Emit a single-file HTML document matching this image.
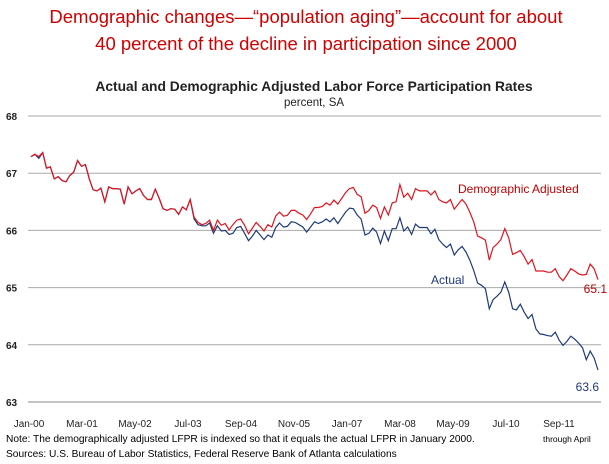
<!DOCTYPE html>
<html><head><meta charset="utf-8"><style>
body{margin:0;background:#fff;width:609px;height:459px;overflow:hidden;font-family:"Liberation Sans",sans-serif}
svg text{font-family:"Liberation Sans",sans-serif}
</style></head><body>
<svg id="c" width="609" height="459">
<text x="306" y="23" text-anchor="middle" font-size="18.5" fill="#d00000">Demographic changes—“population aging”—account for about</text>
<text x="306" y="50" text-anchor="middle" font-size="18.5" fill="#d00000">40 percent of the decline in participation since 2000</text>
<text x="314" y="91" text-anchor="middle" font-size="13.8" font-weight="bold" fill="#222">Actual and Demographic Adjusted Labor Force Participation Rates</text>
<text x="314" y="106" text-anchor="middle" font-size="11.5" fill="#222">percent, SA</text>
<g id="grid"></g><g id="series"></g><g id="labels"></g>
<text x="6" y="442" font-size="10.2" fill="#000">Note: The demographically adjusted LFPR is indexed so that it equals the actual LFPR in January 2000.</text>
<text x="543" y="442" font-size="8.5" fill="#000">through April</text>
<text x="6" y="457" font-size="10.2" fill="#000">Sources: U.S. Bureau of Labor Statistics, Federal Reserve Bank of Atlanta calculations</text>
</svg>
<script>
const yTicks=[63,64,65,66,67,68];
const xLabels=["Jan-00","Mar-01","May-02","Jul-03","Sep-04","Nov-05","Jan-07","Mar-08","May-09","Jul-10","Sep-11"];
const adjusted=[67.29,67.33,67.29,67.36,67.09,67.11,66.9,66.94,66.87,66.85,66.96,67.02,67.22,67.12,67.15,66.9,66.71,66.69,66.74,66.5,66.76,66.73,66.73,66.72,66.46,66.76,66.64,66.69,66.73,66.61,66.54,66.54,66.72,66.56,66.38,66.35,66.38,66.37,66.28,66.41,66.36,66.54,66.23,66.14,66.1,66.12,66.18,66.0,66.18,66.09,66.12,66.01,66.1,66.18,66.2,66.09,65.94,66.04,66.14,66.07,65.99,66.1,66.06,66.25,66.32,66.25,66.26,66.35,66.35,66.3,
66.27,66.19,66.29,66.4,66.4,66.42,66.48,66.44,66.53,66.46,66.56,66.66,66.73,66.75,66.63,66.59,66.3,66.35,66.44,66.4,66.21,66.41,66.27,66.48,66.5,66.8,66.58,66.65,66.54,66.73,66.69,66.69,66.69,66.62,66.69,66.54,66.5,66.48,66.54,66.37,66.46,66.54,66.46,66.32,66.15,65.9,65.87,65.83,65.48,65.7,65.76,65.84,66.03,65.87,65.58,65.61,65.65,65.54,65.41,65.49,65.29,65.29,65.29,65.27,65.27,65.33,65.19,65.12,65.22,65.33,65.29,65.24,65.22,65.23,65.41,65.33,65.14];
const actual=[67.29,67.33,67.26,67.36,67.09,67.11,66.9,66.94,66.87,66.85,66.96,67.02,67.22,67.12,67.15,66.9,66.71,66.69,66.74,66.5,66.76,66.73,66.73,66.72,66.46,66.76,66.64,66.69,66.73,66.61,66.54,66.54,66.72,66.56,66.38,66.35,66.38,66.37,66.28,66.41,66.36,66.54,66.2,66.1,66.08,66.08,66.13,65.95,66.08,65.99,66.0,65.93,65.95,66.05,66.07,65.95,65.82,65.9,66.0,65.92,65.84,65.92,65.88,66.05,66.13,66.06,66.07,66.15,66.14,66.1,
66.06,65.97,66.06,66.15,66.12,66.15,66.2,66.15,66.22,66.12,66.22,66.32,66.39,66.38,66.27,66.2,65.92,65.95,66.04,65.97,65.77,65.99,65.82,66.03,66.03,66.22,65.99,66.06,65.93,66.11,66.05,66.05,66.05,65.94,66.02,65.84,65.76,65.7,65.76,65.57,65.66,65.72,65.62,65.48,65.3,65.08,65.04,64.98,64.63,64.79,64.85,64.92,65.1,64.92,64.63,64.61,64.71,64.57,64.46,64.53,64.28,64.19,64.18,64.16,64.15,64.22,64.08,63.99,64.06,64.15,64.1,64.03,63.95,63.74,63.89,63.77,63.56];
const NS="http://www.w3.org/2000/svg";
const X0=31,X1=598,N=adjusted.length;
const xs=i=>X0+(X1-X0)*i/(N-1);
const ys=v=>116+(68-v)*57.2;
function mk(t,a,p){const e=document.createElementNS(NS,t);for(const k in a)e.setAttribute(k,a[k]);p.appendChild(e);return e;}
const grid=document.getElementById('grid'),labels=document.getElementById('labels'),series=document.getElementById('series');
yTicks.forEach(v=>{
 const l=mk('line',{x1:28,x2:601,y1:ys(v),y2:ys(v),stroke:v===63?'#888':'#aaa','stroke-width':1},grid);
 
 
 const t=mk('text',{x:6,y:ys(v)+4,'font-size':10,'font-weight':'bold',fill:'#222'},labels);
 t.textContent=v;
 
 
});
xLabels.forEach((s,i)=>{
 const x=29+i*53;
 const t=mk('text',{x:x,y:427,'font-size':10,'text-anchor':'middle',fill:'#222'},labels);
 t.textContent=s;
 
 
});
function line(arr,col,name){
 const p=mk('polyline',{points:arr.map((v,i)=>xs(i).toFixed(1)+','+ys(v).toFixed(1)).join(' '),fill:'none',stroke:col,'stroke-width':1.2},series);
 
 
}
line(actual,'#1f3a7a','actual-line');
line(adjusted,'#e0141e','demographic-adjusted-line');
function lab(x,y,s,col,name,anchor){
 const t=mk('text',{x:x,y:y,'font-size':12,fill:col,'text-anchor':anchor||'start'},labels);
 t.textContent=s;
 
 
}
lab(458,193,'Demographic Adjusted','#c00000','legend-demographic-adjusted');
lab(431,284,'Actual','#1f3a7a','legend-actual');
lab(607,293,adjusted[N-1].toFixed(1),'#c00000','end-value-adjusted','end');
lab(599,391,actual[N-1].toFixed(1),'#1f3a7a','end-value-actual','end');
</script>
</body></html>
